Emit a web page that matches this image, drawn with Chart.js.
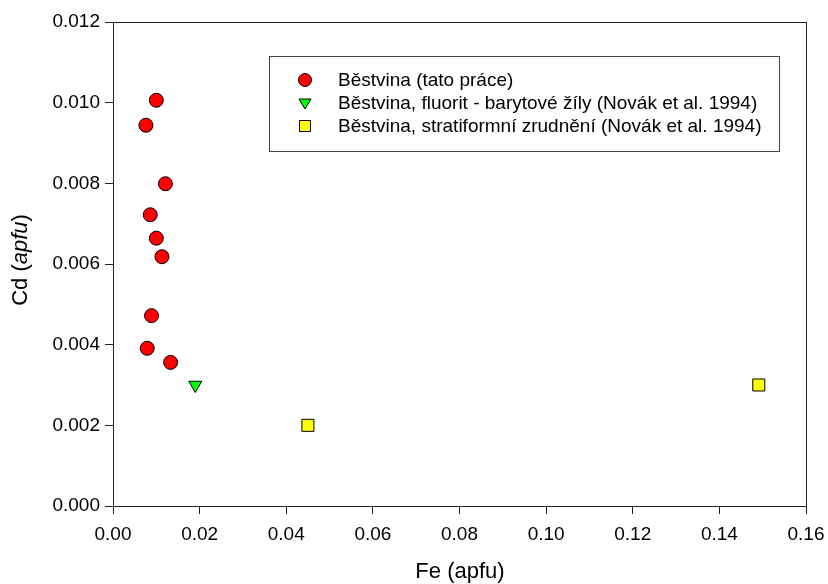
<!DOCTYPE html>
<html>
<head>
<meta charset="utf-8">
<script src="https://cdn.jsdelivr.net/npm/chart.js@4/dist/chart.umd.min.js"></script>
<style>
  html, body { margin: 0; padding: 0; background: #fff; }
  #wrap { width: 828px; height: 584px; }
</style>
</head>
<body>
<div id="wrap"><canvas id="scatterChart" width="828" height="584"></canvas></div>
<script>
// Data
const tatoFe = [0.0100, 0.0076, 0.0121, 0.0086, 0.0100, 0.0113, 0.0089, 0.0079, 0.0133];
const tatoCd = [0.01006, 0.00944, 0.00799, 0.00722, 0.00664, 0.00618, 0.00472, 0.00391, 0.00356];
const fluoritFe = [0.0190];
const fluoritCd = [0.0030];
const stratFe = [0.0450, 0.1491];
const stratCd = [0.0020, 0.0030];

const xTicks = [0, 0.02, 0.04, 0.06, 0.08, 0.10, 0.12, 0.14, 0.16];
const yTicks = [0, 0.002, 0.004, 0.006, 0.008, 0.010, 0.012];

const labels = [
    'Běstvina (tato práce)',
    'Běstvina, fluorit - barytové žíly (Novák et al. 1994)',
    'Běstvina, stratiformní zrudnění (Novák et al. 1994)'
];

function toPoints(xs, ys) {
    return xs.map((x, i) => ({ x: x, y: ys[i] }));
}

const FONT = '"Liberation Sans", Arial, sans-serif';

// frame, legend box and axis titles
const extras = {
    id: 'extras',
    afterDraw(chart) {
        const ctx = chart.ctx;
        const a = chart.chartArea;
        ctx.save();
        ctx.strokeStyle = '#222';
        ctx.lineWidth = 1;
        ctx.strokeRect(Math.round(a.left) + 0.5, Math.round(a.top) + 0.5,
            Math.round(a.right - a.left), Math.round(a.bottom - a.top));

        // legend
        ctx.strokeStyle = '#444';
        ctx.strokeRect(269.5, 56.5, 510, 95);
        ctx.font = '19px ' + FONT;
        ctx.fillStyle = '#000';
        ctx.textBaseline = 'middle';
        ctx.textAlign = 'left';
        const rows = [80, 103, 126];
        chart.data.datasets.forEach((ds, i) => {
            const cx = 305, cy = rows[i];
            ctx.fillStyle = ds.backgroundColor;
            ctx.strokeStyle = '#000';
            ctx.lineWidth = 1;
            ctx.beginPath();
            if (ds.pointStyle === 'circle') {
                ctx.arc(cx, cy, 6.5, 0, Math.PI * 2);
            } else if (ds.pointStyle === 'triangle') {
                ctx.moveTo(cx - 6, cy - 4);
                ctx.lineTo(cx + 6, cy - 4);
                ctx.lineTo(cx, cy + 6);
                ctx.closePath();
            } else {
                ctx.rect(cx - 5.5, cy - 5.5, 11, 11);
            }
            ctx.fill();
            ctx.stroke();
            ctx.fillStyle = '#000';
            ctx.fillText(ds.label, 338, cy + 1);
        });

        // axis titles
        ctx.font = '22px ' + FONT;
        ctx.textAlign = 'center';
        ctx.fillText('Fe (apfu)', 460, 572);

        ctx.translate(21, 260);
        ctx.rotate(-Math.PI / 2);
        const p1 = 'Cd (', p2 = 'apfu', p3 = ')';
        ctx.font = '22px ' + FONT;
        const w1 = ctx.measureText(p1).width;
        const w3 = ctx.measureText(p3).width;
        ctx.font = 'italic 22px ' + FONT;
        const w2 = ctx.measureText(p2).width;
        const x = -(w1 + w2 + w3) / 2;
        ctx.textAlign = 'left';
        ctx.font = '22px ' + FONT;
        ctx.fillText(p1, x, 0);
        ctx.font = 'italic 22px ' + FONT;
        ctx.fillText(p2, x + w1, 0);
        ctx.font = '22px ' + FONT;
        ctx.fillText(p3, x + w1 + w2, 0);
        ctx.restore();
    }
};

new Chart(document.getElementById('scatterChart'), {
    type: 'scatter',
    data: {
        datasets: [{
            label: labels[0],
            data: toPoints(tatoFe, tatoCd),
            pointStyle: 'circle',
            radius: 7,
            backgroundColor: '#FF0000',
            borderColor: '#000',
            borderWidth: 1
        }, {
            label: labels[1],
            data: toPoints(fluoritFe, fluoritCd),
            pointStyle: 'triangle',
            rotation: 180,
            radius: 7.5,
            backgroundColor: '#00FF00',
            borderColor: '#000',
            borderWidth: 1
        }, {
            label: labels[2],
            data: toPoints(stratFe, stratCd),
            pointStyle: 'rect',
            radius: 8.5,
            backgroundColor: '#FFFF00',
            borderColor: '#000',
            borderWidth: 1
        }]
    },
    options: {
        responsive: false,
        animation: false,
        layout: { padding: { left: 0, right: 22, top: 22, bottom: 0 } },
        plugins: {
            legend: { display: false },
            tooltip: { enabled: false }
        },
        scales: {
            x: {
                type: 'linear',
                min: 0,
                max: 0.16,
                afterFit: (s) => { s.height = 78; s.paddingLeft = 0; s.paddingRight = 0; },
                afterBuildTicks: (s) => { s.ticks = xTicks.map(v => ({ value: v })); },
                ticks: {
                    color: '#000',
                    font: { family: FONT, size: 19 },
                    padding: 9,
                    maxRotation: 0,
                    callback: (v) => v.toFixed(2)
                },
                grid: { drawOnChartArea: false, color: '#222', tickLength: 8 },
                border: { color: '#222' }
            },
            y: {
                type: 'linear',
                min: 0,
                max: 0.012,
                afterFit: (s) => { s.width = 113; s.paddingTop = 0; s.paddingBottom = 0; },
                afterBuildTicks: (s) => { s.ticks = yTicks.map(v => ({ value: v })); },
                ticks: {
                    color: '#000',
                    font: { family: FONT, size: 19 },
                    padding: 5,
                    callback: (v) => v.toFixed(3)
                },
                grid: { drawOnChartArea: false, color: '#222', tickLength: 8 },
                border: { color: '#222' }
            }
        }
    },
    plugins: [extras]
});
</script>
</body>
</html>
